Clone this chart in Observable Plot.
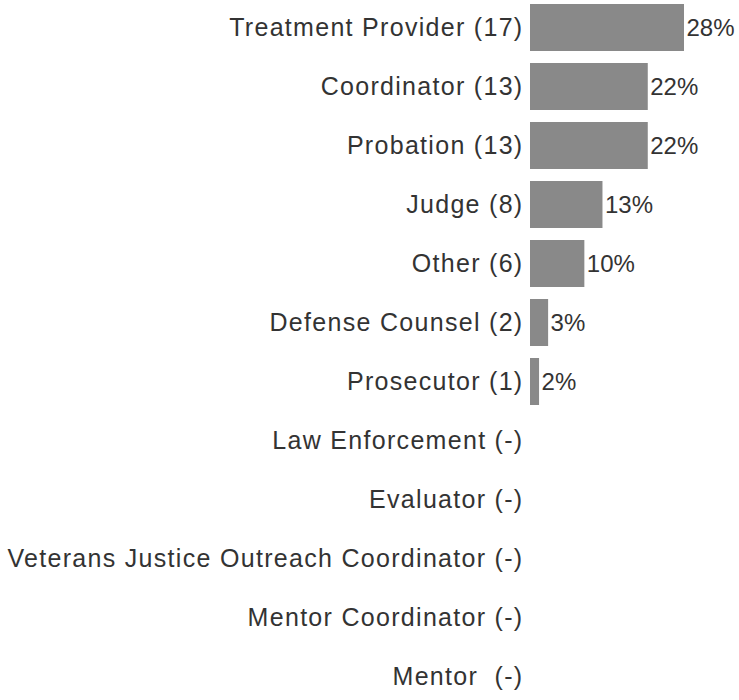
<!DOCTYPE html>
<html>
<head>
<meta charset="utf-8">
<script src="https://cdn.jsdelivr.net/npm/d3@7"></script>
<script src="https://cdn.jsdelivr.net/npm/@observablehq/plot@0.6"></script>
<style>
  body { margin: 0; background: #fff; }
  #chart svg { font-family: "Liberation Sans", Arial, sans-serif; }
  #chart svg g[aria-label="y-axis tick label"] text { letter-spacing: 1.3px; }
</style>
</head>
<body>
<div id="chart"></div>
<script>
const categories = [
  "Treatment Provider (17)",
  "Coordinator (13)",
  "Probation (13)",
  "Judge (8)",
  "Other (6)",
  "Defense Counsel (2)",
  "Prosecutor (1)",
  "Law Enforcement (-)",
  "Evaluator (-)",
  "Veterans Justice Outreach Coordinator (-)",
  "Mentor Coordinator (-)",
  "Mentor  (-)"
];
const counts = [17, 13, 13, 8, 6, 2, 1, 0, 0, 0, 0, 0];
const percentLabels = ["28%", "22%", "22%", "13%", "10%", "3%", "2%", "", "", "", "", ""];

const data = categories.map((c, i) => ({ category: c, count: counts[i], label: percentLabels[i] }));
const barData = data.filter(d => d.count > 0);

const chart = Plot.plot({
  width: 739,
  height: 700,
  marginLeft: 530,
  marginRight: 55,
  marginTop: 0,
  marginBottom: 0,
  style: { fontFamily: "'Liberation Sans', Arial, sans-serif", background: "#fff" },
  x: { domain: [0, 17], axis: null },
  y: { domain: categories, range: [-5, 709], paddingInner: 0.2, paddingOuter: 0.1, label: null },
  marks: [
    Plot.axisY({ tickSize: 0, tickPadding: 7, fontSize: 25, fill: "#333", label: null }),
    Plot.barX(barData, { x: "count", y: "category", fill: "#898989" }),
    Plot.text(barData, { x: "count", y: "category", text: "label", textAnchor: "start", dx: 2, fontSize: 24, fill: "#333" })
  ]
});
document.getElementById("chart").appendChild(chart);
</script>
</body>
</html>
